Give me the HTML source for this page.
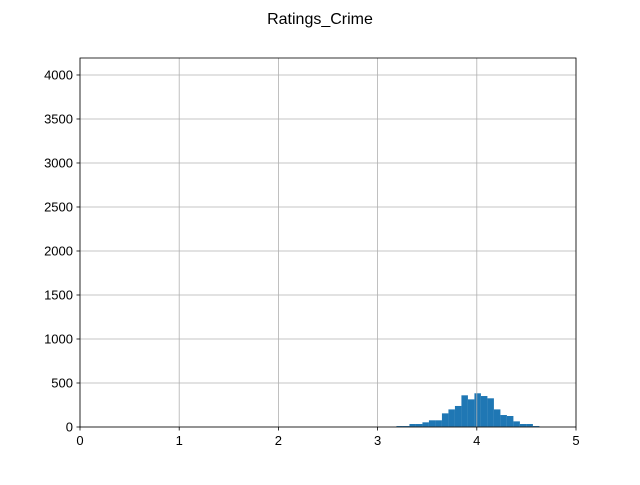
<!DOCTYPE html>
<html><head><meta charset="utf-8"><style>
body{margin:0;background:#fff;font-family:"Liberation Sans","DejaVu Sans",sans-serif}
</style></head><body>
<svg id="chart" width="640" height="480" xmlns="http://www.w3.org/2000/svg">
<rect width="640" height="480" fill="#fff"/>
<text x="320" y="24" font-size="16" text-anchor="middle">Ratings_Crime</text>
<g id="bars"></g><g id="grid"></g><g id="axes"></g>
</svg>
<script>
const binStart = 3.19;
const binWidth = 0.0655;
const counts = [11,11,34,34,53,76,76,155,200,239,360,314,383,352,326,200,136,125,64,34,34,11];
const xTicks = [0,1,2,3,4,5];
const yTicks = [0,500,1000,1500,2000,2500,3000,3500,4000];
const xMin=0,xMax=5,yMin=0,yMax=4193;
const L=80,R=576,T=58,B=427;
const xs=v=>L+(v-xMin)/(xMax-xMin)*(R-L);
const ys=v=>B-(v-yMin)/(yMax-yMin)*(B-T);
const NS="http://www.w3.org/2000/svg";
function mk(tag,attrs,parent){const e=document.createElementNS(NS,tag);for(const k in attrs)e.setAttribute(k,attrs[k]);parent.appendChild(e);return e;}
const grid=document.getElementById('grid'),bars=document.getElementById('bars'),axes=document.getElementById('axes');
xTicks.forEach(t=>{const x=xs(t);
 const g=mk('line',{x1:x,x2:x,y1:T,y2:B,stroke:'#b0b0b0','stroke-width':0.8},grid);
 
 
 const tk=mk('line',{x1:x,x2:x,y1:B,y2:B+3.5,stroke:'#000','stroke-width':0.8},axes);
 
 
 const lb=mk('text',{x:x,y:B+18,'font-size':13,'text-anchor':'middle'},axes);lb.textContent=t;
 
 
});
yTicks.forEach(t=>{const y=ys(t);
 const g=mk('line',{x1:L,x2:R,y1:y,y2:y,stroke:'#b0b0b0','stroke-width':0.8},grid);
 
 
 const tk=mk('line',{x1:L-3.5,x2:L,y1:y,y2:y,stroke:'#000','stroke-width':0.8},axes);
 
 
 const lb=mk('text',{x:L-7,y:y+4.5,'font-size':13,'text-anchor':'end'},axes);lb.textContent=t;
 
 
});
counts.forEach((c,i)=>{const x0=xs(binStart+i*binWidth),x1=xs(binStart+(i+1)*binWidth);
 const r=mk('rect',{x:x0,y:ys(c),width:x1-x0,height:B-ys(c),fill:'#1f77b4'},bars);
 
 
});
const fr=mk('rect',{x:L,y:T,width:R-L,height:B-T,fill:'none',stroke:'#000','stroke-width':0.8},axes);


</script>
</body></html>
